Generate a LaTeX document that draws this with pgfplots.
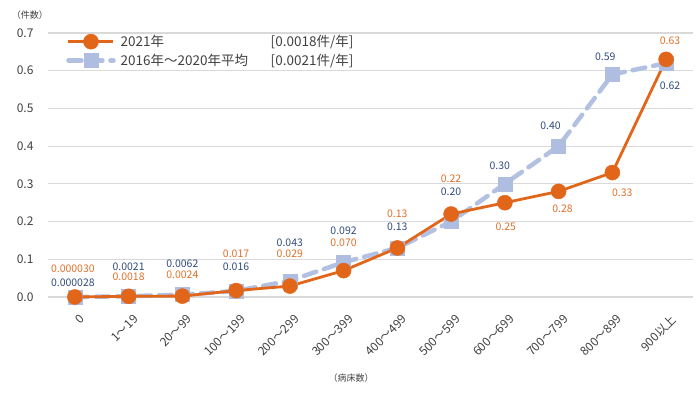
\documentclass[border=0pt]{standalone}
\usepackage{pgfplots}
\pgfplotsset{compat=1.18}
\usepackage{fontspec}
\setmainfont{Noto Sans CJK JP}
\definecolor{orgC}{HTML}{E2661A}
\definecolor{bluL}{HTML}{B2C0E1}
\definecolor{bluM}{HTML}{AFBDE0}
\definecolor{bluT}{HTML}{2F4B7C}
\definecolor{orgT}{HTML}{E0702A}
\definecolor{gridC}{HTML}{D9D9D9}
\definecolor{txtC}{HTML}{404040}
\pgfplotstableread{
x y
0 0.000030
1 0.0018
2 0.0024
3 0.017
4 0.029
5 0.070
6 0.13
7 0.22
8 0.25
9 0.28
10 0.33
11 0.63
}\cur
\pgfplotstableread{
x y
0 0.000028
1 0.0021
2 0.0062
3 0.016
4 0.043
5 0.092
6 0.13
7 0.20
8 0.30
9 0.40
10 0.59
11 0.62
}\avg
\begin{document}
\begin{tikzpicture}[lab/.style={font=\fontsize{10.5}{10.5}\selectfont, inner sep=0pt}]
\begin{axis}[
  scale only axis, width=645pt, height=264pt,
  xmin=-0.5, xmax=11.5, ymin=0, ymax=0.7,
  axis line style={draw=none}, tick style={draw=none},
  ymajorgrids, grid style={gridC, line width=1.2pt},
  ytick={0,0.1,0.2,0.3,0.4,0.5,0.6,0.7},
  /pgf/number format/assume math mode=true,
  yticklabel style={/pgf/number format/.cd, fixed, fixed zerofill, precision=1, /tikz/.cd,
    font=\fontsize{12}{12}\selectfont, text=txtC, xshift=-11pt},
  xtick={0,1,2,3,4,5,6,7,8,9,10,11},
  xticklabels={0,1～19,20～99,100～199,200～299,300～399,400～499,500～599,600～699,700～799,800～899,900以上},
  xticklabel style={font=\fontsize{12}{12}\selectfont, text=txtC, xshift=4pt, yshift=-12pt, rotate=45, anchor=north east},
  clip=false,
  reverse legend,
  legend cell align=left,
  legend style={at={(0.028,1.0)}, anchor=north west, draw=none, fill=none,
    font=\fontsize{13.5}{13.5}\selectfont, text=txtC, row sep=2pt, inner sep=0pt},
  legend image code/.code={\draw[mark repeat=2, mark phase=2, #1] plot coordinates {(0pt,0pt) (22.5pt,0pt) (45pt,0pt)};},
]
\addplot[bluL, line width=4.5pt, dash pattern=on 13pt off 8pt, line cap=round,
  mark=square*, mark size=7pt, mark options={solid, fill=bluM, draw=bluM, line width=0.5pt}]
  table[x=x,y=y]{\avg};
\addlegendentry{\hspace{3pt}\makebox[150pt][l]{2016年～2020年平均}[0.0021件/年]}
\addplot[orgC, line width=2.8pt, mark=*, mark size=7.5pt, mark options={fill=orgC, draw=orgC, line width=0.5pt}]
  table[x=x,y=y]{\cur};
\addlegendentry{\hspace{3pt}\makebox[150pt][l]{2021年}[0.0018件/年]}
% labels
\node[lab, text=orgT] at (axis cs:0,0.0743) [xshift=-2pt] {0.000030};
\node[lab, text=bluT] at (axis cs:0,0.0371) [xshift=-2pt] {0.000028};
\node[lab, text=bluT] at (axis cs:1,0.0796) {0.0021};
\node[lab, text=orgT] at (axis cs:1,0.0530) {0.0018};
\node[lab, text=bluT] at (axis cs:2,0.0875) {0.0062};
\node[lab, text=orgT] at (axis cs:2,0.0583) {0.0024};
\node[lab, text=orgT] at (axis cs:3,0.114) {0.017};
\node[lab, text=bluT] at (axis cs:3,0.0796) {0.016};
\node[lab, text=bluT] at (axis cs:4,0.143) {0.043};
\node[lab, text=orgT] at (axis cs:4,0.114) {0.029};
\node[lab, text=bluT] at (axis cs:5,0.175) {0.092};
\node[lab, text=orgT] at (axis cs:5,0.143) {0.070};
\node[lab, text=orgT] at (axis cs:6,0.220) {0.13};
\node[lab, text=bluT] at (axis cs:6,0.186) {0.13};
\node[lab, text=orgT] at (axis cs:7,0.313) {0.22};
\node[lab, text=bluT] at (axis cs:7,0.278) {0.20};
\node[lab, text=bluT] at (axis cs:8,0.347) [xshift=-5pt] {0.30};
\node[lab, text=orgT] at (axis cs:8,0.186) [xshift=1pt] {0.25};
\node[lab, text=bluT] at (axis cs:9,0.453) [xshift=-8pt] {0.40};
\node[lab, text=orgT] at (axis cs:9,0.233) [xshift=4pt] {0.28};
\node[lab, text=bluT] at (axis cs:10,0.636) [xshift=-7pt] {0.59};
\node[lab, text=orgT] at (axis cs:10,0.276) [xshift=10pt] {0.33};
\node[lab, text=orgT] at (axis cs:11,0.679) [xshift=4pt] {0.63};
\node[lab, text=bluT] at (axis cs:11,0.560) [xshift=4pt] {0.62};
\node[font=\fontsize{9}{9}\selectfont, text=txtC] at (rel axis cs:0.470,-0.307) {（病床数）};
\node[font=\fontsize{9}{9}\selectfont, text=txtC] at (rel axis cs:-0.028,1.068) {（件数）};
\coordinate (bl) at (rel axis cs:-0.0744,-0.3674);
\coordinate (tr) at (rel axis cs:1.0109,1.125);
\end{axis}
\path (bl) rectangle (tr);
\end{tikzpicture}
\end{document}
